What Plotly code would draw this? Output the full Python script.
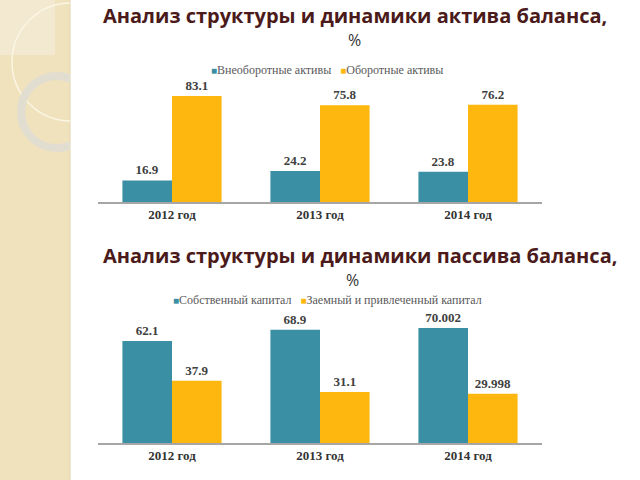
import plotly.graph_objects as go

# ---- data ----
categories = ["2012 год", "2013 год", "2014 год"]
assets_noncurrent = [16.9, 24.2, 23.8]
assets_current = [83.1, 75.8, 76.2]
equity = [62.1, 68.9, 70.002]
borrowed = [37.9, 31.1, 29.998]

top_title = "Анализ структуры и динамики актива баланса,"
bottom_title = "Анализ структуры и динамики пассива баланса,"
top_names = ["Внеоборотные активы", "Оборотные активы"]
bottom_names = ["Собственный капитал", "Заемный и привлеченный капитал"]

BLUE = "#3a8fa4"
YELLOW = "#feb70f"
SERIF = "Liberation Serif"
LABEL_FONT = dict(family=SERIF, size=13, color="#404040", weight="bold")

W, H = 640, 480
def px_x(p):
    return p / W
def px_y(p):
    return (H - p) / H

fig = go.Figure()

def add_bar(x, y, name, color, xa, ya):
    fig.add_trace(go.Bar(
        x=x, y=y, name=name, marker=dict(color=color, line=dict(width=0)),
        text=[str(v) for v in y], textposition="outside", textfont=LABEL_FONT,
        cliponaxis=False, xaxis=xa, yaxis=ya, showlegend=False,
    ))

add_bar(categories, assets_noncurrent, top_names[0], BLUE, "x", "y")
add_bar(categories, assets_current, top_names[1], YELLOW, "x", "y")
add_bar(categories, equity, bottom_names[0], BLUE, "x2", "y2")
add_bar(categories, borrowed, bottom_names[1], YELLOW, "x2", "y2")

xdom = [px_x(98), px_x(542)]
axis_common = dict(showline=True, linecolor="#a6a6a6", linewidth=1.5, ticks="",
                   showgrid=False, zeroline=False, fixedrange=True,
                   tickfont=dict(family=SERIF, size=13, color="#333333", weight="bold"))
yaxis_common = dict(showgrid=False, zeroline=False, showticklabels=False, showline=False, fixedrange=True)

fig.update_layout(
    width=W, height=H, margin=dict(l=0, r=0, t=0, b=0),
    paper_bgcolor="white", plot_bgcolor="white",
    barmode="group", bargap=0.33, bargroupgap=0,
    xaxis=dict(domain=xdom, anchor="y", **axis_common),
    yaxis=dict(domain=[px_y(202), px_y(74.4)], range=[0, 100], anchor="x", **yaxis_common),
    xaxis2=dict(domain=xdom, anchor="y2", **axis_common),
    yaxis2=dict(domain=[px_y(443), px_y(311.6)], range=[0, 80], anchor="x2", **yaxis_common),
    xaxis3=dict(domain=[0, px_x(70)], range=[0, 70], visible=False, anchor="y3", fixedrange=True),
    yaxis3=dict(domain=[0, 1], range=[480, 0], visible=False, anchor="x3", fixedrange=True),
    showlegend=False,
)

# decorative left strip
shapes = [
    dict(type="rect", xref="paper", yref="paper", x0=0, x1=px_x(70), y0=0, y1=1,
         fillcolor="#efe2bd", line=dict(width=0), layer="below"),
    dict(type="line", xref="paper", yref="paper", x0=px_x(70), x1=px_x(70), y0=0, y1=1,
         line=dict(color="#e2d3ab", width=1), layer="below"),
    dict(type="rect", xref="x3", yref="y3", x0=0, x1=55, y0=0, y1=55,
         fillcolor="#f3e9d0", line=dict(width=0), layer="below"),
    dict(type="circle", xref="x3", yref="y3", x0=71 - 59, x1=71 + 59, y0=62 - 59, y1=62 + 59,
         line=dict(color="#fbf5e4", width=1.5), layer="below"),
    dict(type="circle", xref="x3", yref="y3", x0=57 - 36, x1=57 + 36, y0=112 - 36, y1=112 + 36,
         line=dict(color="#e2ddd1", width=8), layer="below"),
]
fig.update_layout(shapes=shapes)

TITLE_FONT = dict(family="Open Sans", size=20, color="#4b1a1a", weight="bold")
PCT_FONT = dict(family="Open Sans", size=16, color="#333333")
LEG_FONT = dict(family=SERIF, size=12, color="#595959")

def legend_text(names):
    parts = []
    for name, col in zip(names, [BLUE, YELLOW]):
        parts.append("<span style='color:%s;font-size:10px'>■</span>%s" % (col, name))
    return "   ".join(parts)

ann = [
    dict(text=top_title, x=px_x(355), y=px_y(15), font=TITLE_FONT),
    dict(text="%", x=px_x(354), y=px_y(40), font=PCT_FONT),
    dict(text=bottom_title, x=px_x(360), y=px_y(255), font=TITLE_FONT),
    dict(text="%", x=px_x(352), y=px_y(280), font=PCT_FONT),
    dict(text=legend_text(top_names), x=px_x(327), y=px_y(70), font=LEG_FONT),
    dict(text=legend_text(bottom_names), x=px_x(327), y=px_y(300), font=LEG_FONT),
]
for a in ann:
    a.update(xref="paper", yref="paper", xanchor="center", yanchor="middle", showarrow=False)
fig.update_layout(annotations=ann)

fig.write_html("out.html")
